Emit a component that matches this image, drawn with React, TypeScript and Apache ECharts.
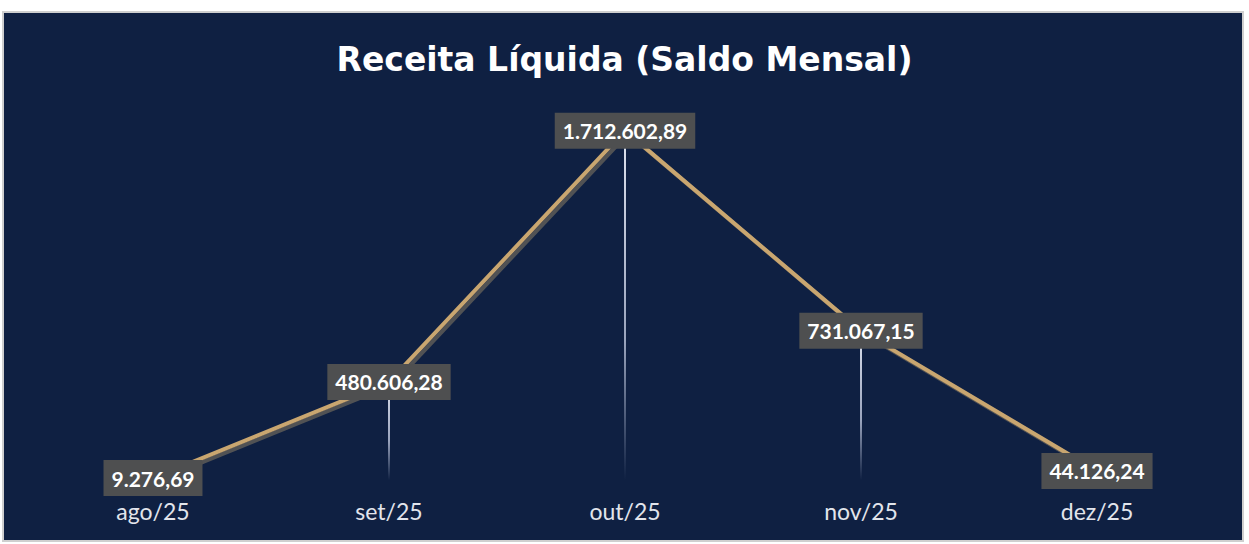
import React, { useEffect, useRef } from "react";
import * as echarts from "echarts";

const titleText = "Receita Líquida (Saldo Mensal)";
const categories = ["ago/25", "set/25", "out/25", "nov/25", "dez/25"];
const values = [9276.69, 480606.28, 1712602.89, 731067.15, 44126.24];

const fmt = (v: number) =>
  v.toLocaleString("pt-BR", { minimumFractionDigits: 2, maximumFractionDigits: 2 });

export default function App() {
  const ref = useRef<HTMLDivElement>(null);
  useEffect(() => {
    if (!ref.current) return;
    const chart = echarts.init(ref.current, undefined, { renderer: "svg" });
    chart.setOption({
      animation: false,
      backgroundColor: "#ffffff",
      graphic: [
        {
          type: "rect",
          z: -10,
          silent: true,
          shape: { x: 3, y: 12, width: 1240, height: 529 },
          style: { fill: "#0f2042", stroke: "#cfcfcf", lineWidth: 2 },
        },
      ],
      title: {
        text: titleText,
        left: "center",
        top: 38,
        textStyle: {
          color: "#ffffff",
          fontFamily: "DejaVu Sans",
          fontWeight: "bold",
          fontSize: 33,
        },
      },
      grid: { left: 35, right: 34, top: 72, bottom: 64 },
      xAxis: {
        type: "category",
        data: categories,
        boundaryGap: true,
        axisLine: { show: false },
        axisTick: { show: false },
        axisLabel: {
          color: "#e2e5ec",
          fontFamily: "Lato",
          fontSize: 23,
          margin: 19,
        },
      },
      yAxis: {
        type: "value",
        min: 0,
        max: 2000000,
        show: false,
        splitLine: { show: false },
      },
      series: [
        {
          type: "bar",
          data: values,
          barWidth: 2,
          silent: true,
          z: 1,
          itemStyle: {
            color: {
              type: "linear",
              x: 0,
              y: 0,
              x2: 0,
              y2: 1,
              colorStops: [
                { offset: 0, color: "rgba(235,238,248,0.95)" },
                { offset: 0.6, color: "rgba(200,208,230,0.75)" },
                { offset: 1, color: "rgba(200,208,230,0)" },
              ],
            },
          },
        },
        {
          type: "line",
          data: values,
          z: 3,
          symbol: "circle",
          symbolSize: 2,
          itemStyle: { color: "#c9a66f" },
          lineStyle: {
            color: "#c9a66f",
            width: 4,
            shadowColor: "rgba(85,85,85,0.95)",
            shadowOffsetX: 3,
            shadowOffsetY: 3,
            shadowBlur: 1,
          },
          label: {
            show: true,
            position: "inside",
            formatter: (p: any) => fmt(p.value),
            color: "#ffffff",
            fontFamily: "Lato",
            fontWeight: "bold",
            fontSize: 21,
            backgroundColor: "#4e4f50",
            padding: [7, 8, 7, 8],
            lineHeight: 22,
          },
        },
      ],
    });
    return () => chart.dispose();
  }, []);
  return (
    <div
      ref={ref}
      style={{ position: "absolute", left: 0, top: 0, width: 1249, height: 544 }}
    />
  );
}
